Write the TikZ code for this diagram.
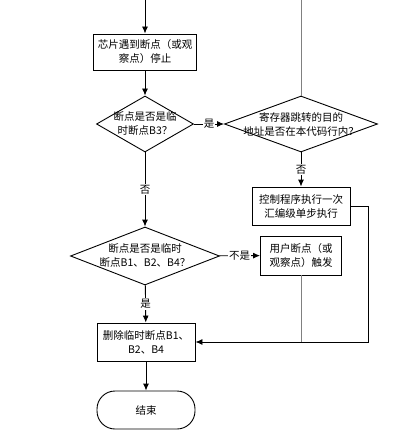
\documentclass[tikz,border=0pt]{standalone}
\usepackage{fontspec}
\setmainfont{Noto Sans CJK SC}
\usetikzlibrary{positioning}
\usetikzlibrary{calc}
\usetikzlibrary{arrows.meta,shapes}

\tikzset{
  box/.style={draw,rectangle,align=center,inner sep=2pt},
  decision/.style={draw,diamond,inner sep=0pt},
  dtext/.style={align=center},
  endbox/.style={draw,rectangle,rounded corners=18pt},
  lbl/.style={fill=white,inner sep=1pt}
}

\begin{document}
\begin{tikzpicture}[x=1pt,y=-1pt,font=\fontsize{10.5}{14}\selectfont,line width=0.9pt,>={Latex[length=7pt,width=6pt]}]
\useasboundingbox (0,0) rectangle (402,433);
\coordinate (startA) at (145,0);
\coordinate (endQ) at (301,0);
\coordinate (turnR) at (368,342);
\node[box,minimum width=103pt,minimum height=36pt](stop) at (145,52){芯片遇到断点（或观\\察点）停止};
\node[decision,minimum width=97pt,minimum height=56pt,label={[dtext]center:断点是否是临\\时断点B3？}](q3) at (145,124){};
\node[decision,minimum width=153pt,minimum height=56pt,label={[dtext]center:寄存器跳转的目的\\地址是否在本代码行内？}](qaddr) at (301,124){};
\node[box,minimum width=98pt,minimum height=38pt](step1) at (301,206){控制程序执行一次\\汇编级单步执行};
\node[decision,minimum width=149pt,minimum height=58pt,label={[dtext]center:断点是否是临时\\断点B1、B2、B4？}](q124) at (145,256){};
\node[box,minimum width=81pt,minimum height=39pt](user) at (301,255.5){用户断点（或\\观察点）触发};
\node[box,minimum width=98pt,minimum height=38pt](del) at (146,342){删除临时断点B1、\\B2、B4};
\node[endbox,minimum width=98pt,minimum height=38pt](done) at (146,410){结束};

\path
(startA) edge[->] (stop)
(stop) edge[->] (q3)
(q3) edge[->] node[lbl]{是} (qaddr)
(qaddr) edge[gray] (endQ)
(qaddr) edge[->] node[lbl]{否} (step1)
(q3) edge[->] node[lbl]{否} (q124)
(q124) edge[->] node[lbl]{不是} (user)
(q124) edge[->] node[lbl]{是} (del)
(del) edge[->] (done);
\draw[->] (step1.east) -| (turnR) -- (del.east);
\draw[gray] (user.south) -- (user.south |- del.east);
\end{tikzpicture}
\end{document}
